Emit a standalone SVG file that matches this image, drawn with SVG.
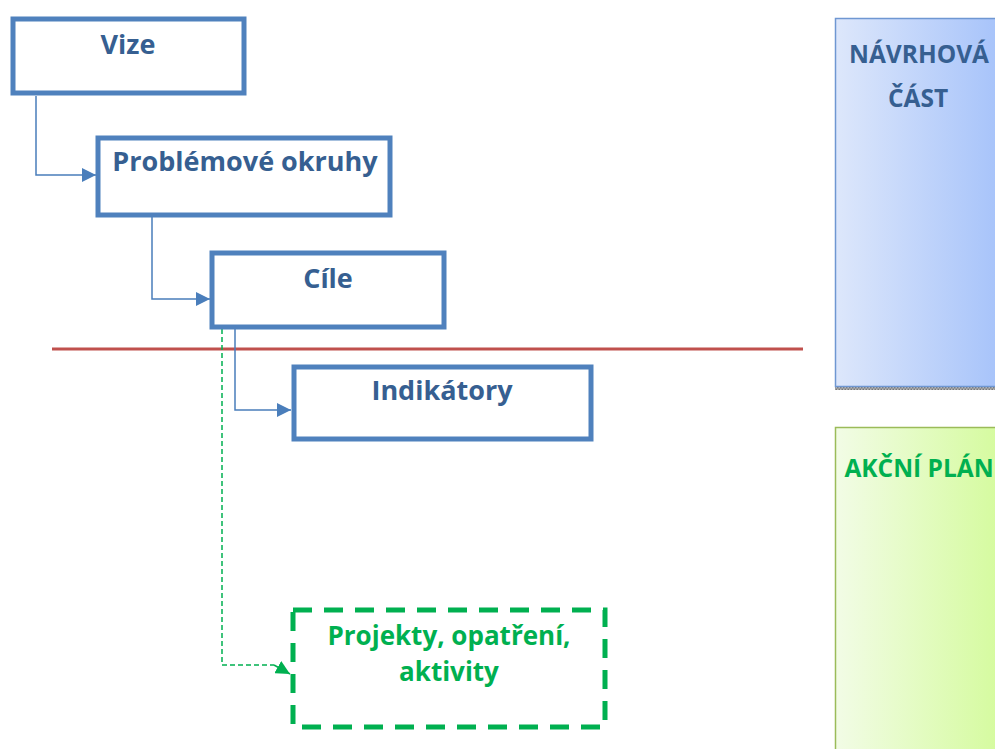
<svg xmlns="http://www.w3.org/2000/svg" width="995" height="749" viewBox="0 0 995 749">
<style>
.box{fill:#fff;stroke:#4F81BD;stroke-width:5}
.t{font-family:"Open Sans",Lato,sans-serif;font-weight:bold;font-size:27px;fill:#365F91;text-anchor:middle}
.tg{fill:#00B050;font-size:26px}
.p{font-size:24.5px}
.con{fill:none;stroke:#4A7EBB;stroke-width:1.5}
.gcon{fill:none;stroke:#00B050;stroke-width:1.5;stroke-dasharray:5 3}
</style>
<defs>
<marker id="ab" viewBox="0 0 10 10" refX="10" refY="5" markerWidth="14" markerHeight="14" markerUnits="userSpaceOnUse" orient="auto"><path d="M0,0 L10,5 L0,10 Z" fill="#4A7EBB"/></marker>
<marker id="ag" viewBox="0 0 10 10" refX="10" refY="5" markerWidth="14" markerHeight="14" markerUnits="userSpaceOnUse" orient="auto"><path d="M0,0 L10,5 L0,10 Z" fill="#00B050"/></marker>
<linearGradient id="gb" x1="0" x2="1" y1="0" y2="0"><stop offset="0" stop-color="#DDE7FB"/><stop offset="1" stop-color="#A5C2FA"/></linearGradient>
<linearGradient id="gg" x1="0" x2="1" y1="0" y2="0"><stop offset="0" stop-color="#F2FCE6"/><stop offset="1" stop-color="#D4FB9C"/></linearGradient>
<pattern id="hatch" width="3" height="3" patternUnits="userSpaceOnUse"><rect width="3" height="3" fill="#bbb"/><rect width="1.5" height="1.5" fill="#777"/><rect x="1.5" y="1.5" width="1.5" height="1.5" fill="#777"/></pattern>
</defs>
<g id="panel-navrh">
<rect x="835" y="387" width="165" height="3" fill="url(#hatch)"/>
<rect x="835.5" y="18.5" width="170" height="368" fill="url(#gb)" stroke="#6F97D2" stroke-width="1.5"/>
<text class="t p" x="919" y="63">NÁVRHOVÁ</text>
<text class="t p" x="918" y="107">ČÁST</text>
</g>
<g id="panel-akcni">
<rect x="835.5" y="427.5" width="170" height="330" fill="url(#gg)" stroke="#9BBB59" stroke-width="1.5"/>
<text class="t tg p" x="919" y="477">AKČNÍ PLÁN</text>
</g>
<line id="divider" x1="52" y1="349" x2="803" y2="349" stroke="#C0504D" stroke-width="3"/>
<g id="connectors">
<path class="con" d="M36,96 V175 H96" marker-end="url(#ab)"/>
<path class="con" d="M152,217 V299 H210" marker-end="url(#ab)"/>
<path class="con" d="M235,329 V410 H291" marker-end="url(#ab)"/>
<path class="gcon" d="M222,329 V665 H274" />
<path class="gcon" d="M274,665 L290,674" style="stroke-dasharray:none" marker-end="url(#ag)"/>
</g>
<g id="vize"><rect class="box" x="13" y="19" width="231" height="74"/><text class="t" x="128" y="54">Vize</text></g>
<g id="problemove"><rect class="box" x="98" y="138" width="292" height="77"/><text class="t" x="245" y="171">Problémové okruhy</text></g>
<g id="cile"><rect class="box" x="212" y="253" width="232" height="74"/><text class="t" x="328" y="288">Cíle</text></g>
<g id="indikatory"><rect class="box" x="294" y="367" width="297" height="72"/><text class="t" x="442" y="400">Indikátory</text></g>
<g id="projekty"><rect x="293" y="610" width="312" height="117" fill="#fff" stroke="#00B050" stroke-width="5" stroke-dasharray="19 12"/>
<text class="t tg" x="449" y="645">Projekty, opatření,</text>
<text class="t tg" x="449" y="681">aktivity</text></g>
</svg>
